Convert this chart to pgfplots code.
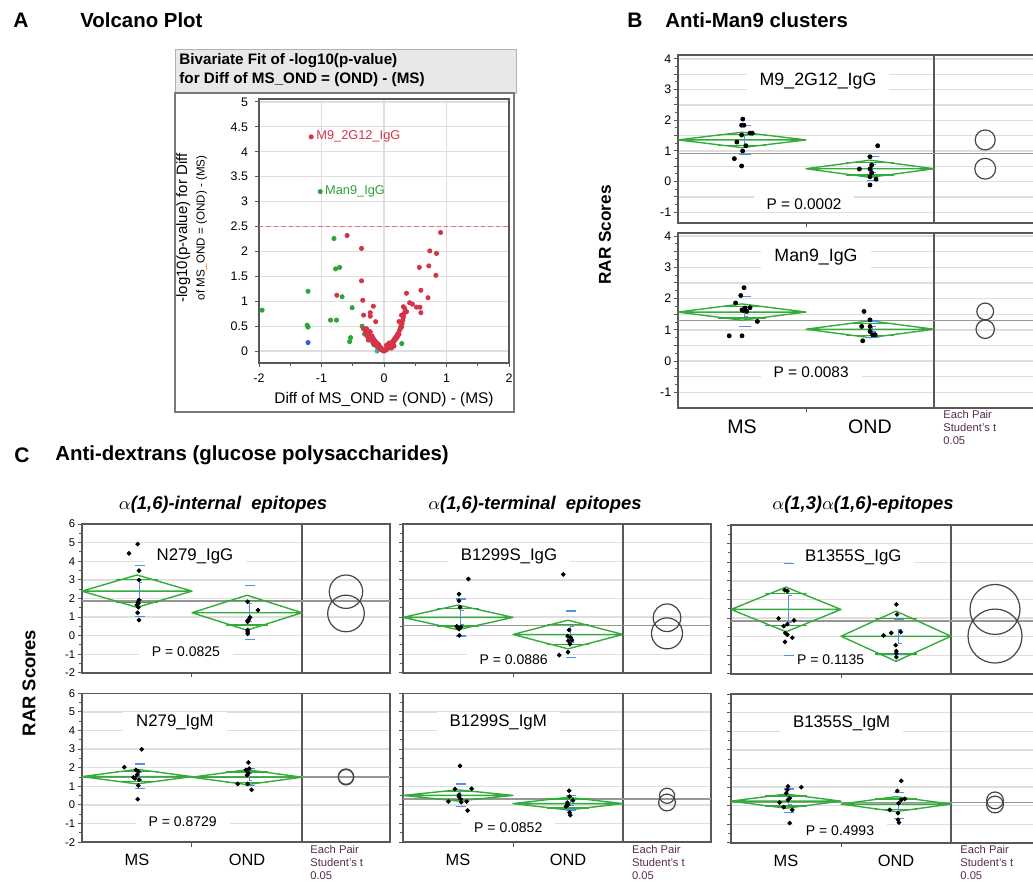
\documentclass[border=0pt]{standalone}
\usepackage{fontspec}
\setmainfont{Liberation Sans}
\usepackage{pgfplots}
\pgfplotsset{compat=1.18}

\definecolor{dgreen}{RGB}{52,172,60}
\definecolor{sdblue}{RGB}{86,142,238}
\definecolor{vred}{RGB}{212,52,72}
\definecolor{vgreen}{RGB}{44,164,58}
\definecolor{vblue}{RGB}{44,96,226}
\definecolor{vteal}{RGB}{32,190,165}
\definecolor{vdash}{RGB}{246,104,110}
\definecolor{framec}{RGB}{88,88,88}
\definecolor{gridc}{RGB}{222,222,222}
\definecolor{meanc}{RGB}{150,150,150}
\definecolor{circc}{RGB}{70,70,70}
\definecolor{pairc}{RGB}{88,44,78}
\definecolor{headc}{RGB}{232,232,232}

\newcommand\fs[1]{\fontsize{#1}{#1}\selectfont}

% means diamond: centre, mean, half height of the CI
\newcommand\mdiam[3]{%
  \pgfmathsetmacro\dL{#1-0.5}\pgfmathsetmacro\dR{#1+0.5}%
  \pgfmathsetmacro\dT{#2+#3}\pgfmathsetmacro\dB{#2-#3}%
  \pgfmathsetmacro\oT{#2+0.7071*#3}\pgfmathsetmacro\oB{#2-0.7071*#3}%
  \pgfmathsetmacro\oL{#1-0.19}\pgfmathsetmacro\oR{#1+0.19}%
  \edef\tmp{%
    \noexpand\addplot[dgreen, line width=0.7pt, line join=round] coordinates {(\dL,#2) (#1,\dT) (\dR,#2) (#1,\dB) (\dL,#2) (\dR,#2)};
    \noexpand\addplot[dgreen, line width=0.7pt] coordinates {(\oL,\oT) (\oR,\oT)};
    \noexpand\addplot[dgreen, line width=0.7pt] coordinates {(\oL,\oB) (\oR,\oB)};}\tmp}
% std dev lines and mean error bar: centre, mean, sd, se
\newcommand\sdse[4]{%
  \pgfmathsetmacro\sT{#2+#3}\pgfmathsetmacro\sB{#2-#3}%
  \pgfmathsetmacro\eT{#2+#4}\pgfmathsetmacro\eB{#2-#4}%
  \pgfmathsetmacro\sL{#1-0.02}\pgfmathsetmacro\sR{#1+0.07}%
  \pgfmathsetmacro\eX{#1+0.02}\pgfmathsetmacro\eC{#1+0.05}%
  \edef\tmp{%
    \noexpand\addplot[sdblue, line width=0.7pt] coordinates {(\sL,\sT) (\sR,\sT)};
    \noexpand\addplot[sdblue, line width=0.7pt] coordinates {(\sL,\sB) (\sR,\sB)};
    \noexpand\addplot[sdblue, line width=0.6pt] coordinates {(\eC,\eT) (\eX,\eT) (\eX,\eB) (\eC,\eB)};}\tmp}
% comparison circle: mean, radius in pt
\newcommand\ccirc[2]{\addplot[only marks, mark=o, mark size=#2pt, mark options={draw=circc, line width=0.6pt}] coordinates {(2.4,#1)};}

\tikzset{
  lab/.style={fill=white, inner xsep=6.5pt, inner ysep=1.5pt, font=\fs{#1}},
  pts/.style={only marks, mark=*, mark size=#1pt, black},
  pair/.style={anchor=north west, align=left, font=\fs{5.6}, text=pairc, inner sep=0pt},
}
\newcommand\eachpair{Each Pair\\[0.9pt]Student's t\\[0.9pt]0.05}
\pgfplotsset{
  jmp/.style={
    scale only axis, xmin=0,
    axis line style={framec, line width=0.7pt},
    tick style={framec, line width=0.5pt},
    tick align=outside, tick pos=left,
    major tick length=2.2pt, minor tick length=1.4pt,
    ymajorgrids, grid style={gridc, line width=0.7pt},
    xtick={1}, xticklabels={},
    yticklabel style={font=\fs{6.2}, inner sep=1pt},
    clip=true,
  },
  jmpB/.style={jmp, width=179.2pt, xmax=2.8,
    ytick={-1,-0.5,...,4}, yticklabels={-1,,0,,1,,2,,3,,4}, minor y tick num=1},
  jmpC/.style={jmp, width=154pt, xmax=2.8, height=74.4pt, ymin=-2, ymax=6,
    ytick={-2,...,6}, minor y tick num=1, yticklabel style={font=\fs{5.6}}},
  cats/.style={extra x ticks={0.5,1.5}, extra x tick labels={MS,OND},
    extra x tick style={major tick length=0pt, xticklabel style={font=\fs{#1}, yshift=-2.5pt}}},
}

\begin{document}
\begin{tikzpicture}
\path[use as bounding box] (0,0) rectangle (516.5pt,440pt);

% ---------------- titles
\begin{scope}[every node/.style={inner sep=0pt}]
\node[anchor=west, font=\bfseries\fs{10.5}] at (6.5pt,430pt) {A};
\node[anchor=west, font=\bfseries\fs{10.2}] at (40pt,430pt) {Volcano Plot};
\node[anchor=west, font=\bfseries\fs{10.5}] at (313.5pt,430pt) {B};
\node[anchor=west, font=\bfseries\fs{10.2}] at (332.5pt,430pt) {Anti-Man9 clusters};
\node[anchor=west, font=\bfseries\fs{10.5}] at (7pt,212.5pt) {C};
\node[anchor=west, font=\bfseries\fs{10.2}] at (27.5pt,212.5pt) {Anti-dextrans (glucose polysaccharides)};
\end{scope}
\node[font=\bfseries\itshape\fs{9.2}] at (111.5pt,187.5pt) {$\alpha$(1,6)-internal\ \ epitopes};
\node[font=\bfseries\itshape\fs{9.2}] at (267.5pt,187.5pt) {$\alpha$(1,6)-terminal\ \ epitopes};
\node[font=\bfseries\itshape\fs{9.2}] at (431.5pt,187.5pt) {$\alpha$(1,3)$\alpha$(1,6)-epitopes};
\node[rotate=90, font=\bfseries\fs{8.6}] at (302.5pt,322.5pt) {RAR Scores};
\node[rotate=90, font=\bfseries\fs{9.2}] at (14.5pt,98.5pt) {RAR Scores};

% ---------------- A: volcano frame
\draw[draw=black!30, fill=headc] (87.5pt,415.3pt) rectangle (258.3pt,393.5pt);
\draw[draw=framec!80, line width=0.6pt] (87.5pt,393.5pt) rectangle (257pt,234pt);
\node[anchor=west, inner sep=0pt, font=\bfseries\fs{7.6}] at (89.5pt,409.5pt) {Bivariate Fit of -log10(p-value)};
\node[anchor=west, inner sep=0pt, font=\bfseries\fs{7.6}] at (89.5pt,400pt) {for Diff of MS\_OND = (OND) - (MS)};
\node[rotate=90, font=\fs{7.5}] at (91.65pt,326pt) {-log10(p-value) for Diff};
\node[rotate=90, font=\fs{5.8}] at (100.85pt,326pt) {of MS\textcolor{orange}{\_}OND = (OND) - (MS)};

\begin{axis}[scale only axis, at={(129.5pt,390.5pt)}, anchor=north west,
  width=125pt, height=132pt, xmin=-2, xmax=2, ymin=-0.24, ymax=5.06,
  axis line style={framec, line width=0.7pt}, tick style={framec, line width=0.5pt},
  tick align=outside, tick pos=left, major tick length=2pt, minor tick length=1.3pt,
  xtick={-2,-1,0,1,2}, xticklabels={-2,-1,0,1,2}, minor x tick num=1,
  ytick={0,0.5,...,5}, yticklabels={0,0.5,1,1.5,2,2.5,3,3.5,4,4.5,5},
  grid=major, grid style={gridc, line width=0.6pt},
  ticklabel style={font=\fs{6.2}},
  xlabel={Diff of MS\_OND = (OND) - (MS)}, xlabel style={font=\fs{7.7}, yshift=2pt},
]
\addplot[vdash, line width=0.8pt, dash pattern=on 2.2pt off 1.5pt] coordinates {(-2,2.5) (2,2.5)};
\addplot[only marks, mark=*, mark size=1.05pt, vgreen] coordinates {
 (-1.95,0.82) (-1.215,1.20) (-1.23,0.52) (-1.215,0.48) (-0.80,2.26) (-0.775,1.65)
 (-0.71,1.68) (-0.67,1.09) (-0.51,0.87) (-0.855,0.62) (-0.76,0.62) (-0.535,0.27)
 (-0.55,0.19) (-0.35,0.5) (-0.31,0.34) (-0.165,0.13) (0.284,0.15) (-1.02,3.2)};
\addplot[only marks, mark=*, mark size=1.05pt, vblue] coordinates {(-1.215,0.17)};
\addplot[only marks, mark=*, mark size=1.05pt, vteal] coordinates {(-0.11,0.0)};
\addplot[only marks, mark=*, mark size=1.05pt, vred] coordinates {
 (-1.165,4.30) (-0.59,2.32) (-0.36,2.06) (-0.36,1.41) (-0.755,1.12) (-0.34,1.02)
 (-0.17,0.90) (-0.326,0.72) (-0.22,0.77) (-0.22,0.70) (-0.133,0.59)
 (0.36,1.16) (0.59,1.22) (0.41,0.97) (0.455,0.94) (0.52,0.88) (0.575,0.88)
 (0.59,0.77) (0.705,1.07) (0.565,1.68) (0.717,1.71) (0.733,2.01) (0.84,1.96)
 (0.83,1.52) (0.905,2.38) (0.31,0.89) (0.33,0.86) (0.36,0.79) (0.28,0.72) (0.24,0.59)
 (-0.33,0.45) (-0.3,0.38) (-0.28,0.45) (-0.27,0.3) (-0.25,0.33) (-0.24,0.25)
 (-0.25,0.22) (-0.23,0.39) (-0.22,0.38) (-0.2,0.22) (-0.19,0.3) (-0.18,0.18)
 (-0.17,0.25) (-0.15,0.14) (-0.14,0.2) (-0.13,0.11) (-0.11,0.09) (-0.1,0.15)
 (-0.09,0.07) (-0.08,0.12) (-0.07,0.05) (-0.06,0.08) (-0.05,0.03) (-0.04,0.05)
 (-0.03,0.02) (-0.02,0.01) (0,0) (0.01,0.01) (0.02,0.03) (0.03,0.02) (0.04,0.05)
 (0.04,0.12) (0.05,0.04) (0.06,0.08) (0.07,0.06) (0.08,0.1) (0.08,0.16) (0.09,0.08)
 (0.1,0.12) (0.11,0.15) (0.12,0.13) (0.12,0.06) (0.13,0.18) (0.14,0.16) (0.15,0.21)
 (0.16,0.19) (0.16,0.1) (0.17,0.25) (0.18,0.23) (0.19,0.28) (0.2,0.26) (0.21,0.32)
 (0.22,0.3) (0.23,0.36) (0.24,0.34) (0.25,0.42) (0.26,0.45) (0.27,0.5) (0.28,0.48)
 (0.29,0.55) (0.3,0.62) (0.31,0.68) (0.32,0.75) (0.34,0.8)};
\node[anchor=west, font=\fs{6.4}, text=vred, inner sep=1pt] at (axis cs:-1.12,4.30) {M9\_2G12\_IgG};
\node[anchor=west, font=\fs{6.4}, text=vgreen, inner sep=1pt] at (axis cs:-0.98,3.2) {Man9\_IgG};
\end{axis}

% ---------------- B: anti-Man9 clusters
\begin{axis}[jmpB, at={(339pt,412.5pt)}, anchor=north west, height=84pt, ymin=-1.35, ymax=4.13]
\node[lab=8.9] at (axis cs:1.094,3.28) {M9\_2G12\_IgG};
\node[lab=7.7] at (axis cs:0.984,-0.73) {P = 0.0002};
\addplot[framec, line width=0.8pt] coordinates {(2,-5) (2,10)};
\addplot[meanc, line width=0.7pt] coordinates {(0,0.92) (3,0.92)};
\mdiam{0.5}{1.36}{0.25}
\mdiam{1.5}{0.42}{0.28}
\sdse{0.5}{1.36}{0.47}{0.15}
\sdse{1.5}{0.42}{0.39}{0.13}
\addplot[pts=1] coordinates {(0.506,2.04) (0.497,1.84) (0.515,1.84) (0.497,1.52)
 (0.5625,1.58) (0.58,1.58) (0.46,1.29) (0.53,1.17) (0.505,1.0) (0.44,0.75) (0.497,0.51)};
\addplot[pts=1] coordinates {(1.56,1.17) (1.5,0.81) (1.417,0.41) (1.513,0.54) (1.5,0.41)
 (1.513,0.29) (1.5,0.16) (1.547,0.08) (1.5,-0.11)};
\ccirc{1.36}{5}
\ccirc{0.42}{5.2}
\end{axis}

\begin{axis}[jmpB, cats=9.8, at={(339pt,323.5pt)}, anchor=north west, height=87.5pt, ymin=-1.5, ymax=4.1]
\node[lab=8.9] at (axis cs:1.078,3.34) {Man9\_IgG};
\node[lab=7.7] at (axis cs:1.04,-0.37) {P = 0.0083};
\addplot[framec, line width=0.8pt] coordinates {(2,-5) (2,10)};
\addplot[meanc, line width=0.7pt] coordinates {(0,1.30) (3,1.30)};
\mdiam{0.5}{1.57}{0.26}
\mdiam{1.5}{1.02}{0.27}
\sdse{0.5}{1.58}{0.48}{0.15}
\sdse{1.5}{1.02}{0.26}{0.09}
\addplot[pts=1] coordinates {(0.516,2.35) (0.49,2.10) (0.45,1.86) (0.50,1.64) (0.523,1.70)
 (0.5625,1.71) (0.537,1.59) (0.51,1.62) (0.62,1.27) (0.40,0.81) (0.50,0.81)};
\addplot[pts=1] coordinates {(1.453,1.59) (1.5,1.32) (1.435,1.11) (1.5,1.11) (1.5,0.95)
 (1.52,0.84) (1.54,0.84) (1.443,0.65)};
\ccirc{1.59}{4.2}
\ccirc{1.02}{4.6}
\end{axis}
\node[pair] at (471.5pt,235pt) {\eachpair};

% ---------------- C, column 1
\begin{axis}[jmpC, at={(41pt,178pt)}, anchor=north west, yticklabels={-2,-1,0,1,2,3,4,5,6}]
\node[lab=8.4] at (axis cs:1.027,4.28) {N279\_IgG};
\node[lab=7] at (axis cs:0.945,-0.87) {P = 0.0825};
\addplot[framec, line width=0.8pt] coordinates {(2,-5) (2,10)};
\addplot[meanc, line width=0.7pt] coordinates {(0,1.87) (3,1.87)};
\mdiam{0.5}{2.39}{0.87}
\mdiam{1.5}{1.23}{0.94}
\sdse{0.5}{2.39}{1.37}{0.45}
\sdse{1.5}{1.24}{1.44}{0.47}
\addplot[pts=0.95] coordinates {(0.427,4.42) (0.506,4.92) (0.518,3.49) (0.518,2.99)
 (0.518,1.91) (0.51,1.80) (0.512,1.73) (0.512,1.52) (0.50,1.65) (0.506,1.23) (0.518,0.83)};
\addplot[pts=0.95] coordinates {(1.506,1.82) (1.60,1.37) (1.527,0.98) (1.506,0.80)
 (1.515,0.85) (1.506,0.74) (1.506,0.30) (1.506,0.20) (1.506,0.10)};
\ccirc{2.36}{8.35}
\ccirc{1.19}{9.15}
\end{axis}

\begin{axis}[jmpC, cats=8.2, at={(41pt,93.35pt)}, anchor=north west, yticklabels={-2,-1,0,1,2,3,4,5,6}]
\node[lab=8.4] at (axis cs:0.845,4.42) {N279\_IgM};
\node[lab=7] at (axis cs:0.915,-0.92) {P = 0.8729};
\addplot[framec, line width=0.8pt] coordinates {(2,-5) (2,10)};
\addplot[meanc, line width=0.7pt] coordinates {(0,1.51) (3,1.51)};
\mdiam{0.5}{1.52}{0.39}
\mdiam{1.5}{1.49}{0.40}
\sdse{0.5}{1.54}{0.66}{0.2}
\sdse{1.5}{1.5}{0.47}{0.17}
\addplot[pts=0.95] coordinates {(0.543,2.99) (0.385,2.03) (0.49,1.88) (0.512,1.80)
 (0.467,1.48) (0.482,1.43) (0.52,1.35) (0.512,1.04) (0.506,0.31) (0.50,1.62)};
\addplot[pts=0.95] coordinates {(1.512,2.28) (1.49,1.88) (1.512,1.71) (1.415,1.13)
 (1.506,1.13) (1.542,0.81) (1.50,1.60) (1.52,1.95)};
\ccirc{1.52}{3.85}
\ccirc{1.49}{3.85}
\end{axis}
\node[pair] at (155pt,17.5pt) {\eachpair};

% ---------------- C, column 2
\begin{axis}[jmpC, at={(201.5pt,178pt)}, anchor=north west, yticklabels={}]
\node[lab=8.4] at (axis cs:0.964,4.28) {B1299S\_IgG};
\node[lab=7] at (axis cs:1.006,-1.28) {P = 0.0886};
\addplot[framec, line width=0.8pt] coordinates {(2,-5) (2,10)};
\addplot[meanc, line width=0.7pt] coordinates {(0,0.55) (3,0.55)};
\mdiam{0.5}{0.98}{0.66}
\mdiam{1.5}{0.06}{0.77}
\sdse{0.5}{0.97}{1.0}{0.36}
\sdse{1.5}{0.08}{1.25}{0.42}
\addplot[pts=0.95] coordinates {(0.594,3.04) (0.509,2.23) (0.509,1.87) (0.518,1.52)
 (0.488,0.50) (0.50,0.42) (0.527,0.46) (0.51,0.35) (0.512,0.01)};
\addplot[pts=0.95] coordinates {(1.457,3.29) (1.51,0.30) (1.497,-0.03) (1.524,-0.10)
 (1.536,-0.24) (1.503,-0.28) (1.518,-0.46) (1.50,-0.89) (1.42,-1.05)};
\ccirc{0.96}{6.9}
\ccirc{0.12}{7.75}
\end{axis}

\begin{axis}[jmpC, cats=8.2, at={(201.5pt,93.35pt)}, anchor=north west, yticklabels={}]
\node[lab=8.4] at (axis cs:0.866,4.42) {B1299S\_IgM};
\node[lab=7] at (axis cs:0.957,-1.25) {P = 0.0852};
\addplot[framec, line width=0.8pt] coordinates {(2,-5) (2,10)};
\addplot[meanc, line width=0.7pt] coordinates {(0,0.31) (3,0.31)};
\mdiam{0.5}{0.51}{0.30}
\mdiam{1.5}{0.07}{0.34}
\sdse{0.5}{0.52}{0.6}{0.18}
\sdse{1.5}{0.11}{0.38}{0.13}
\addplot[pts=0.95] coordinates {(0.518,2.10) (0.473,0.85) (0.624,0.87) (0.509,0.45)
 (0.524,0.31) (0.412,0.18) (0.579,0.18) (0.53,0.15) (0.588,-0.30) (0.51,0.55)};
\addplot[pts=0.95] coordinates {(1.51,0.76) (1.515,0.45) (1.545,0.24) (1.494,0.12)
 (1.482,-0.08) (1.515,-0.41) (1.521,-0.55) (1.50,0.0)};
\ccirc{0.49}{3.8}
\ccirc{0.13}{4.2}
\end{axis}
\node[pair] at (315.85pt,17.5pt) {\eachpair};

% ---------------- C, column 3
\begin{axis}[jmpC, width=159.5pt, xmax=2.9, at={(365.5pt,177.5pt)}, anchor=north west, yticklabels={}]
\node[lab=8.4] at (axis cs:1.112,4.28) {B1355S\_IgG};
\node[lab=7] at (axis cs:0.906,-1.26) {P = 0.1135};
\addplot[framec, line width=0.8pt] coordinates {(2,-5) (2,10)};
\addplot[meanc, line width=0.7pt] coordinates {(0,0.83) (3,0.83)};
\mdiam{0.5}{1.46}{1.2}
\mdiam{1.5}{0.02}{1.35}
\sdse{0.5}{1.47}{2.47}{0.72}
\sdse{1.5}{-0.02}{0.94}{0.37}
\addplot[pts=0.95] coordinates {(0.488,2.5) (0.512,2.45) (0.433,0.98) (0.573,0.87)
 (0.512,0.67) (0.479,0.56) (0.494,0.19) (0.512,0.10) (0.557,-0.06) (0.491,-0.28)};
\addplot[pts=0.95] coordinates {(1.503,1.73) (1.509,1.19) (1.388,0.06) (1.457,0.2)
 (1.543,0.25) (1.497,-0.46) (1.503,-0.78) (1.503,-0.9) (1.503,-1.1)};
\ccirc{1.46}{12.5}
\ccirc{0.03}{13.5}
\end{axis}

\begin{axis}[jmpC, cats=8.2, width=159.5pt, xmax=2.9, at={(365.5pt,93pt)}, anchor=north west, yticklabels={}]
\node[lab=8.4] at (axis cs:1.006,4.43) {B1355S\_IgM};
\node[lab=7] at (axis cs:0.991,-1.34) {P = 0.4993};
\addplot[framec, line width=0.8pt] coordinates {(2,-5) (2,10)};
\addplot[meanc, line width=0.7pt] coordinates {(0,0.18) (3,0.18)};
\mdiam{0.5}{0.24}{0.38}
\mdiam{1.5}{0.08}{0.40}
\sdse{0.5}{0.26}{0.64}{0.2}
\sdse{1.5}{0.02}{0.7}{0.22}
\addplot[pts=0.95] coordinates {(0.518,1.03) (0.512,0.85) (0.639,0.99) (0.503,0.67)
 (0.533,0.40) (0.518,0.31) (0.442,0.17) (0.479,-0.08) (0.557,-0.23) (0.533,-0.94)};
\addplot[pts=0.95] coordinates {(1.548,1.33) (1.512,0.79) (1.579,0.36) (1.548,0.31)
 (1.524,0.13) (1.443,-0.23) (1.518,-0.40) (1.518,-0.76) (1.527,-0.91)};
\ccirc{0.28}{4.2}
\ccirc{0.06}{4.2}
\end{axis}
\node[pair] at (480pt,17.5pt) {\eachpair};

\end{tikzpicture}
\end{document}
